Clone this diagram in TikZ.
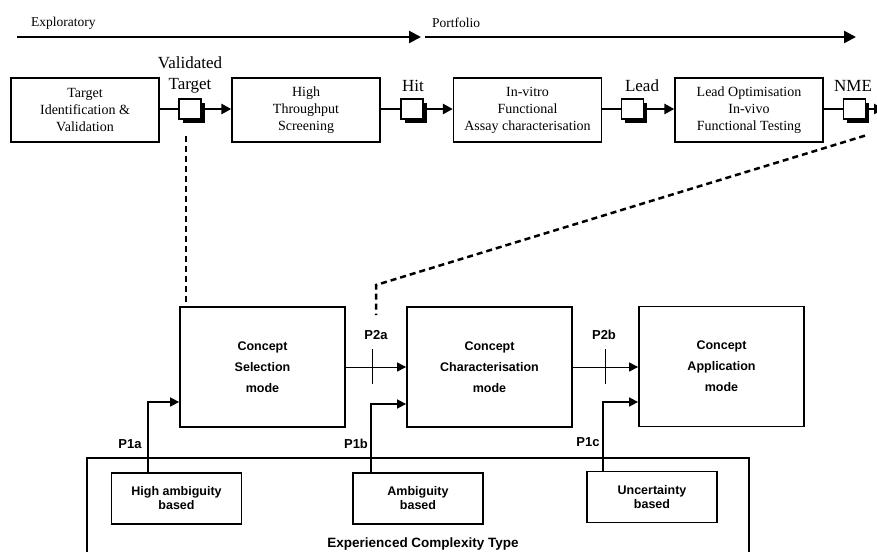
\documentclass[tikz,border=0pt]{standalone}
\usepackage{fontspec}
\setmainfont{Liberation Serif}
\setsansfont{Liberation Sans}
\usetikzlibrary{arrows.meta,shadows,calc}

\begin{document}
\begin{tikzpicture}[x=1pt,y=-1pt,
  stagebox/.style={draw,line width=1.3pt,minimum width=148pt,minimum height=64pt,
    inner sep=0pt,align=center,font=\fontsize{14}{17}\selectfont},
  gatebox/.style={draw,fill=white,line width=1.3pt,minimum width=22pt,minimum height=20pt,
    inner sep=0pt,drop shadow={shadow xshift=3.5pt,shadow yshift=-3.5pt,fill=black,opacity=1}},
  gatelabel/.style={font=\fontsize{17}{21}\selectfont,align=center,inner sep=0pt},
  phaselabel/.style={font=\fontsize{13.5}{16}\selectfont,inner sep=0pt,anchor=west},
  phasearrow/.style={line width=2.5pt,-{Triangle[length=12pt,width=12pt]}},
  feed/.style={line width=1.3pt},
  gatearrow/.style={line width=2.6pt,-{Triangle[length=10pt,width=10pt]}},
  modebox/.style={draw,line width=1.8pt,minimum width=165pt,minimum height=120pt,
    inner sep=0pt,align=center,font=\sffamily\bfseries\fontsize{12.5}{21}\selectfont},
  typebox/.style={draw,line width=1.6pt,minimum width=130pt,minimum height=51pt,
    inner sep=0pt,align=center,font=\sffamily\bfseries\fontsize{12.5}{14}\selectfont},
  plabel/.style={font=\sffamily\bfseries\fontsize{13}{15}\selectfont,inner sep=0pt},
  modearrow/.style={line width=1pt,-{Triangle[length=9pt,width=9pt]}},
  typearrow/.style={line width=1.6pt,-{Triangle[length=9pt,width=9pt]}},
  link/.style={line width=2.5pt,dash pattern=on 6pt off 4pt}]

\clip (0,0) rectangle (877,551);

% phase arrows
\node[phaselabel] (explab) at (31,23) {Exploratory};
\node[phaselabel] (portlab) at (432,23) {Portfolio};
\coordinate (e0) at (17,37);
\coordinate (e1) at (421,37);
\coordinate (p0) at (425,37);
\coordinate (p1) at (856,37);
\draw[phasearrow] (e0) -- (e1);
\draw[phasearrow] (p0) -- (p1);

% discovery stages
\node[stagebox] (tiv) at (85,110) {Target\\Identification \&\\Validation};
\node[stagebox] (hts) at (306,110) {High\\Throughput\\Screening};
\node[stagebox] (ivf) at (527.5,110) {In-vitro\\Functional\\Assay characterisation};
\node[stagebox] (lof) at (749,110) {Lead Optimisation\\In-vivo\\Functional Testing};

% milestone gates
\node[gatebox] (g1) at (190,109) {};
\node[gatebox] (g2) at (412,109) {};
\node[gatebox] (g3) at (632.5,109) {};
\node[gatebox] (g4) at (854.5,109) {};

\node[gatelabel] (l1) at (190,75) {Validated\\Target};
\node[gatelabel] (l2) at (413,86) {Hit};
\node[gatelabel] (l3) at (642,86) {Lead};
\node[gatelabel] (l4) at (853,86) {NME};

\draw[feed] (tiv.east |- g1.west) -- (g1.west);
\draw[gatearrow] ([xshift=3pt]g1.east) -- (hts.west |- g1.east);
\draw[feed] (hts.east |- g2.west) -- (g2.west);
\draw[gatearrow] ([xshift=3pt]g2.east) -- (ivf.west |- g2.east);
\draw[feed] (ivf.east |- g3.west) -- (g3.west);
\draw[gatearrow] ([xshift=3pt]g3.east) -- (lof.west |- g3.east);
\draw[feed] (lof.east |- g4.west) -- (g4.west);
\coordinate (out) at (884,109);
\draw[gatearrow] ([xshift=3pt]g4.east) -- (out);

% concept modes
\node[modebox] (sel) at (262.5,367) {Concept\\Selection\\mode};
\node[modebox] (chr) at (489.5,367) {Concept\\Characterisation\\mode};
\node[modebox] (app) at (721.5,366.5) {Concept\\Application\\mode};

% links from milestones to modes
\draw[link] ([xshift=-4pt,yshift=-16pt]g1.south) -- ([xshift=-4pt]g1.south |- sel.north);
\coordinate (bend) at (376,285);
\coordinate (p2top) at (376,315);
\draw[link] ([xshift=10.5pt,yshift=-16pt]g4.south) -- (bend) -- (p2top);

% transitions between modes
\draw[modearrow] (sel.east) -- (chr.west);
\draw[modearrow] (chr.east) -- (app.west |- chr.east);
\coordinate (t1) at ($(sel.east)!0.45!(chr.west)$);
\coordinate (t2) at ($(chr.east)!0.5!(app.west |- chr.east)$);
\draw[line width=1pt] ([yshift=18pt]t1) -- ([yshift=-17pt]t1);
\draw[line width=1pt] ([yshift=18pt]t2) -- ([yshift=-17pt]t2);
\node[plabel] (p2a) at (376,335) {P2a};
\node[plabel] (p2b) at (604,335) {P2b};

% complexity types
\node[draw,line width=1.8pt,minimum width=662pt,minimum height=142pt,inner sep=0pt] (ect) at (418,529) {};
\node[font=\sffamily\bfseries\fontsize{13.5}{16}\selectfont,inner sep=0pt] (ectlab) at (423,544) {Experienced Complexity Type};

\node[typebox] (hab) at (176.5,498.5) {High ambiguity\\based};
\node[typebox] (amb) at (418,498.5) {Ambiguity\\based};
\node[typebox] (unc) at (652,497) {Uncertainty\\based};

\draw[typearrow] ([xshift=37pt]hab.north west) |- ([yshift=-35pt]sel.west);
\draw[typearrow] ([xshift=19pt]amb.north west) |- ([yshift=-37pt]chr.west);
\draw[typearrow] ([xshift=17pt]unc.north west) |- ([yshift=-35.5pt]app.west);

\node[plabel] (p1a) at (130,444) {P1a};
\node[plabel] (p1b) at (356,444) {P1b};
\node[plabel] (p1c) at (588,442) {P1c};

\end{tikzpicture}
\end{document}
